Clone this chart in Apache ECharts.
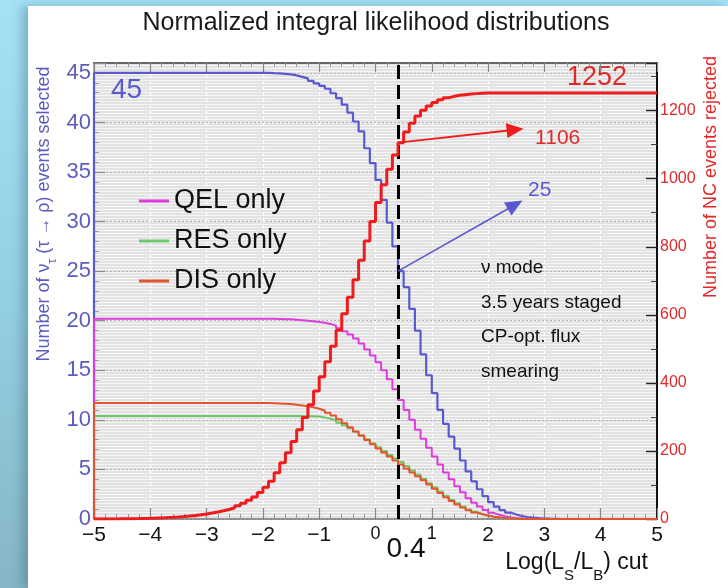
<!DOCTYPE html>
<html>
<head>
<meta charset="utf-8">
<title>Normalized integral likelihood distributions</title>
<script src="https://cdn.jsdelivr.net/npm/echarts@6/dist/echarts.min.js"></script>
<style>
  html, body { margin: 0; padding: 0; width: 728px; height: 588px; overflow: hidden; }
  body { background: linear-gradient(180deg, #a6e2f6 0%, #93cde0 55%, #86b6c6 100%); position: relative; }
  #panel { position: absolute; left: 28px; top: 6px; width: 700px; height: 582px; background: #ffffff;
           box-shadow: -6px 0 10px rgba(40, 90, 110, 0.35); }
  #chart { position: absolute; left: 0; top: 0; width: 728px; height: 588px; }
</style>
</head>
<body>
<div id="panel"></div>
<div id="chart"></div>
<script>
// Histogram binning of the likelihood-ratio cut: 100 bins of width 0.1 on [-5, 5]
const binLow = -5;
const binWidth = 0.1;

// Integral number of nu_tau (tau -> rho) events selected above each cut value (all channels)
const selectedAll = [
  45, 45, 45, 45, 45, 45, 45, 45, 45, 45,
  45, 45, 45, 45, 45, 45, 45, 45, 45, 45,
  45, 45, 45, 45, 45, 45, 45, 45, 45, 45,
  45, 44.97, 44.95, 44.9, 44.85, 44.75, 44.6, 44.45, 44.2, 43.95,
  43.7, 43.4, 42.95, 42.45, 41.8, 41.0, 40.1, 39.1, 37.4, 35.9,
  34.2, 32.2, 29.9, 27.5, 25, 23.4, 21.2, 19.0, 16.6, 14.5,
  12.7, 11.0, 9.6, 8.3, 7.1, 5.9, 4.8, 3.8, 3.0, 2.3,
  1.7, 1.25, 0.9, 0.65, 0.45, 0.3, 0.2, 0.13, 0.08, 0.05,
  0.03, 0.015, 0, 0, 0, 0, 0, 0, 0, 0,
  0, 0, 0, 0, 0, 0, 0, 0, 0, 0
];

// Quasi-elastic channel only
const selectedQEL = [
  20.2, 20.2, 20.2, 20.2, 20.2, 20.2, 20.2, 20.2, 20.2, 20.2,
  20.2, 20.2, 20.2, 20.2, 20.2, 20.2, 20.2, 20.2, 20.2, 20.2,
  20.2, 20.2, 20.2, 20.2, 20.2, 20.2, 20.2, 20.2, 20.2, 20.2,
  20.2, 20.19, 20.18, 20.16, 20.14, 20.1, 20.06, 20.0, 19.95, 19.88,
  19.8, 19.68, 19.5, 19.25, 18.95, 18.6, 18.2, 17.7, 17.1, 16.5,
  15.8, 15.0, 14.1, 13.1, 12.0, 11.0, 10.0, 9.0, 8.1, 7.2,
  6.3, 5.5, 4.7, 4.0, 3.3, 2.7, 2.1, 1.65, 1.25, 0.9,
  0.62, 0.42, 0.28, 0.18, 0.11, 0.06, 0.03, 0.015, 0, 0,
  0, 0, 0, 0, 0, 0, 0, 0, 0, 0,
  0, 0, 0, 0, 0, 0, 0, 0, 0, 0
];

// Resonant channel only
const selectedRES = [
  10.4, 10.4, 10.4, 10.4, 10.4, 10.4, 10.4, 10.4, 10.4, 10.4,
  10.4, 10.4, 10.4, 10.4, 10.4, 10.4, 10.4, 10.4, 10.4, 10.4,
  10.4, 10.4, 10.4, 10.4, 10.4, 10.4, 10.4, 10.4, 10.4, 10.4,
  10.4, 10.4, 10.4, 10.4, 10.4, 10.4, 10.4, 10.39, 10.37, 10.33,
  10.25, 10.12, 9.95, 9.72, 9.45, 9.15, 8.8, 8.45, 8.05, 7.65,
  7.25, 6.85, 6.45, 6.1, 5.75, 5.35, 4.9, 4.5, 4.05, 3.6,
  3.2, 2.75, 2.35, 1.95, 1.6, 1.25, 0.95, 0.72, 0.52, 0.36,
  0.25, 0.17, 0.11, 0.07, 0.04, 0.02, 0.01, 0, 0, 0,
  0, 0, 0, 0, 0, 0, 0, 0, 0, 0,
  0, 0, 0, 0, 0, 0, 0, 0, 0, 0
];

// Deep-inelastic channel only
const selectedDIS = [
  11.7, 11.7, 11.7, 11.7, 11.7, 11.7, 11.7, 11.7, 11.7, 11.7,
  11.7, 11.7, 11.7, 11.7, 11.7, 11.7, 11.7, 11.7, 11.7, 11.7,
  11.7, 11.7, 11.7, 11.7, 11.7, 11.7, 11.7, 11.7, 11.7, 11.7,
  11.7, 11.68, 11.66, 11.63, 11.59, 11.53, 11.46, 11.37, 11.26, 11.12,
  10.95, 10.72, 10.43, 10.07, 9.67, 9.25, 8.82, 8.4, 7.98, 7.55,
  7.12, 6.7, 6.3, 5.9, 5.5, 5.1, 4.7, 4.3, 3.9, 3.48,
  3.05, 2.62, 2.2, 1.82, 1.47, 1.16, 0.89, 0.66, 0.48, 0.34,
  0.23, 0.15, 0.09, 0.05, 0.03, 0.01, 0, 0, 0, 0,
  0, 0, 0, 0, 0, 0, 0, 0, 0, 0,
  0, 0, 0, 0, 0, 0, 0, 0, 0, 0
];

// Integral number of NC background events rejected below each cut value
const rejectedNC = [
  0, 0.1, 0.2, 0.3, 0.5, 0.7, 0.9, 1.2, 1.6, 2.0,
  2.6, 3.3, 4.1, 5.0, 6.0, 7.2, 8.6, 10.3, 12.3, 14.7,
  17.5, 20.5, 24, 28, 33, 39, 46, 55, 65, 78,
  93, 111, 136, 165, 195, 228, 262, 298, 336, 376,
  418, 462, 508, 555, 603, 652, 703, 760, 817, 874,
  930, 982, 1028, 1070, 1106, 1137, 1163, 1184, 1201, 1214,
  1224, 1232, 1238, 1242, 1245, 1247, 1249, 1250, 1251, 1252,
  1252, 1252, 1252, 1252, 1252, 1252, 1252, 1252, 1252, 1252,
  1252, 1252, 1252, 1252, 1252, 1252, 1252, 1252, 1252, 1252,
  1252, 1252, 1252, 1252, 1252, 1252, 1252, 1252, 1252, 1252
];

// Working point and the quoted numbers
const cutValue = 0.4;
const cutSelected = 25;
const cutRejected = 1106;
const totalSelected = 45;
const totalRejected = 1252;

// Axis ranges and tick steps
const xRange = [-5, 5];
const xStep = 1;
const leftRange = [0, 46];
const leftStep = 5;
const rightRange = [0, 1340];
const rightStep = 200;

// Legend entries and info box lines
const legendNames = ['QEL only', 'RES only', 'DIS only'];
const infoLines = ['ν mode', '3.5 years staged', 'CP-opt. flux', 'smearing'];

const FONT = '"Liberation Sans", Arial, Helvetica, sans-serif';
const C_ALL = '#5a5ad0';
const C_QEL = '#dc3cdc';
const C_RES = '#6cc86c';
const C_DIS = '#e2542e';
const C_NC = '#ee1c1c';
const C_LEFT_TXT = '#5c5cc0';
const C_RIGHT_TXT = '#e02a2a';

// Turn bin contents into a closed step outline starting from zero at the low edge
function steps(values) {
  const pts = [[binLow, 0]];
  values.forEach((v, i) => pts.push([+(binLow + i * binWidth).toFixed(2), v]));
  pts.push([+(binLow + values.length * binWidth).toFixed(2), values[values.length - 1]]);
  return pts;
}

// Fine horizontal hatching used as the frame fill
function hatchPattern() {
  const c = document.createElement('canvas');
  c.width = 4; c.height = 3;
  const g = c.getContext('2d');
  g.fillStyle = '#e2e2e2'; g.fillRect(0, 0, 4, 2);
  g.fillStyle = '#f5f5f5'; g.fillRect(0, 2, 4, 1);
  return c;
}

const chart = echarts.init(document.getElementById('chart'), null, { renderer: 'canvas' });
const GRID = { left: 94, right: 71, top: 63, bottom: 69 };

function stepSeries(name, values, color, width, yIdx, z) {
  return {
    name: name, type: 'line', step: 'end', xAxisIndex: 0, yAxisIndex: yIdx,
    data: steps(values), showSymbol: false, symbol: 'none', silent: true, z: z,
    lineStyle: { color: color, width: width }, itemStyle: { color: color }
  };
}

const sAll = stepSeries('All channels', selectedAll, C_ALL, 2.2, 0, 3);
sAll.markLine = {
  silent: true, symbol: ['none', 'none'], animation: false,
  label: { show: false },
  lineStyle: { color: '#000', width: 3, type: [14, 6] },
  data: [{ xAxis: cutValue }]
};
const sArrowBlue = {
  name: 'cut-selected', type: 'line', xAxisIndex: 0, yAxisIndex: 0, data: [], silent: true, z: 6,
  markLine: {
    silent: true, animation: false, symbol: ['none', 'triangle'], symbolSize: [15, 17],
    label: { show: false },
    lineStyle: { color: C_ALL, width: 1.6, type: 'solid' },
    data: [[{ coord: [cutValue, cutSelected] }, { coord: [2.48, 31.7] }]]
  }
};
const sNC = stepSeries('NC rejected', rejectedNC, C_NC, 3, 1, 5);
sNC.markLine = {
  silent: true, animation: false, symbol: ['none', 'triangle'], symbolSize: [15, 17],
  label: { show: false },
  lineStyle: { color: C_NC, width: 2, type: 'solid' },
  data: [[{ coord: [cutValue, cutRejected] }, { coord: [2.48, 1144] }]]
};

// Bottom tick labels: long minus sign; the two labels beside the cut marker are set smaller
const xLabelFmt = v => {
  const s = v < 0 ? '\u2212' + Math.abs(v) : String(v);
  return (v === 0 || v === 1) ? '{c|' + s + '}' : s;
};

chart.setOption({
  animation: false,
  backgroundColor: 'transparent',
  textStyle: { fontFamily: FONT },
  title: {
    text: 'Normalized integral likelihood distributions',
    left: 371, top: 6, textAlign: 'center',
    textStyle: { fontFamily: FONT, fontSize: 25, fontWeight: 'normal', color: '#1a1a1a' }
  },
  legend: {
    orient: 'vertical', left: 134, top: 181, selectedMode: false,
    icon: 'rect', itemWidth: 30, itemHeight: 3, itemGap: 10,
    textStyle: { fontFamily: FONT, fontSize: 27, color: '#111', lineHeight: 30 },
    data: legendNames
  },
  grid: Object.assign({ containLabel: false }, GRID),
  xAxis: [
    {
      type: 'value', min: xRange[0], max: xRange[1], interval: xStep, position: 'bottom',
      axisLine: { show: true, onZero: false, lineStyle: { color: '#777', width: 1.5 } },
      axisTick: { show: true, inside: true, length: 11, lineStyle: { color: '#888', width: 1.2 } },
      minorTick: { show: true, splitNumber: 5, length: 5, lineStyle: { color: '#999' } },
      axisLabel: { color: '#111', fontSize: 21, margin: 6, fontFamily: FONT, formatter: xLabelFmt,
        rich: { c: { fontSize: 18, color: '#111', fontFamily: FONT, padding: [0, 0, 4, 0] } } },
      splitLine: { show: true, lineStyle: { color: '#ffffff', width: 1.2, type: [3, 3] } }
    },
    {
      type: 'value', min: xRange[0], max: xRange[1], interval: xStep, position: 'top',
      axisLine: { show: true, onZero: false, lineStyle: { color: '#666', width: 2 } },
      axisTick: { show: true, inside: true, length: 9, lineStyle: { color: '#888', width: 1.2 } },
      minorTick: { show: true, splitNumber: 5, length: 4, lineStyle: { color: '#999' } },
      axisLabel: { show: false }, splitLine: { show: false }
    }
  ],
  yAxis: [
    {
      type: 'value', min: leftRange[0], max: leftRange[1], interval: leftStep, position: 'left',
      axisLine: { show: true, onZero: false, lineStyle: { color: '#8888cc', width: 1.5 } },
      axisTick: { show: true, inside: true, length: 11, lineStyle: { color: '#8a8a8a', width: 1.2 } },
      minorTick: { show: true, splitNumber: 5, length: 5, lineStyle: { color: '#a0a0a0' } },
      axisLabel: { color: C_LEFT_TXT, fontSize: 22, margin: 3, fontFamily: FONT, showMaxLabel: false },
      splitLine: { show: true, lineStyle: { color: '#b5b5b5', width: 1, type: [2, 2] } }
    },
    {
      type: 'value', min: rightRange[0], max: rightRange[1], interval: rightStep, position: 'right',
      axisLine: { show: true, onZero: false, lineStyle: { color: '#111', width: 2 } },
      axisTick: { show: true, inside: true, length: 11, lineStyle: { color: '#222', width: 1.4 } },
      minorTick: { show: true, splitNumber: 2, length: 6, lineStyle: { color: '#444' } },
      axisLabel: { color: C_RIGHT_TXT, fontSize: 16, margin: 3, fontFamily: FONT, showMaxLabel: false,
        formatter: v => String(v) },
      splitLine: { show: false }
    }
  ],
  series: [
    sAll,
    stepSeries('QEL only', selectedQEL, C_QEL, 2, 0, 3),
    stepSeries('RES only', selectedRES, C_RES, 2, 0, 3),
    stepSeries('DIS only', selectedDIS, C_DIS, 2, 0, 4),
    sNC,
    sArrowBlue
  ]
});

// Annotations positioned from data coordinates
const pL = (x, y) => chart.convertToPixel({ xAxisIndex: 0, yAxisIndex: 0 }, [x, y]);
const pR = (x, y) => chart.convertToPixel({ xAxisIndex: 0, yAxisIndex: 1 }, [x, y]);
const gx = GRID.left, gy = GRID.top;
const gw = 728 - GRID.left - GRID.right, gh = 588 - GRID.top - GRID.bottom;

const pTot = pL(binLow, totalSelected);
const pNCtot = pR(xRange[1], totalRejected);
const pCutAxis = pL(cutValue, 0);
const pBlueTip = pL(2.48, 31.7);
const pRedTip = pR(2.48, 1144);

const graphics = [
  { type: 'rect', silent: true, z: -10, shape: { x: gx, y: gy, width: gw, height: gh },
    style: { fill: { image: hatchPattern(), repeat: 'repeat' } } },
  { type: 'text', silent: true, x: pTot[0] + 17, y: pTot[1] + 17,
    style: { text: String(totalSelected), font: '28px ' + FONT, fill: C_ALL, align: 'left', verticalAlign: 'middle' } },
  { type: 'text', silent: true, x: pNCtot[0] - 30, y: pNCtot[1] - 15,
    style: { text: String(totalRejected), font: '27px ' + FONT, fill: C_RIGHT_TXT, align: 'right', verticalAlign: 'middle' } },
  { type: 'text', silent: true, x: pRedTip[0] + 20, y: pRedTip[1] + 9,
    style: { text: String(cutRejected), font: '21px ' + FONT, fill: C_RIGHT_TXT, align: 'left', verticalAlign: 'middle' } },
  { type: 'text', silent: true, x: pBlueTip[0] + 13, y: pBlueTip[1] - 15,
    style: { text: String(cutSelected), font: '21px ' + FONT, fill: C_ALL, align: 'left', verticalAlign: 'middle' } },
  { type: 'text', silent: true, x: pCutAxis[0] + 8, y: pCutAxis[1] + 30,
    style: { text: String(cutValue), font: '28px ' + FONT, fill: '#111', align: 'center', verticalAlign: 'middle' } },
  { type: 'text', silent: true, x: 648, y: 567,
    style: { text: '{n|Log(L}{s|S}{n|/L}{s|B}{n|) cut}', align: 'right', verticalAlign: 'middle',
      rich: { n: { font: '23px ' + FONT, fill: '#111', lineHeight: 32, verticalAlign: 'top' },
              s: { font: '15px ' + FONT, fill: '#111', lineHeight: 32, verticalAlign: 'bottom', padding: [15, 0, 0, 0] } } } },
  { type: 'text', silent: true, x: 47, y: 214, rotation: Math.PI / 2,
    style: { text: '{n|Number of ν}{s|τ}{n| (τ → ρ) events selected}', align: 'center', verticalAlign: 'middle',
      rich: { n: { font: '18px ' + FONT, fill: C_LEFT_TXT, lineHeight: 24, verticalAlign: 'top' },
              s: { font: '12px ' + FONT, fill: C_LEFT_TXT, lineHeight: 24, verticalAlign: 'bottom', padding: [10, 0, 0, 0] } } } },
  { type: 'text', silent: true, x: 711, y: 177, rotation: Math.PI / 2,
    style: { text: 'Number of NC events rejected', font: '18px ' + FONT, fill: C_RIGHT_TXT, align: 'center', verticalAlign: 'middle' } }
];
infoLines.forEach((t, i) => {
  graphics.push({ type: 'text', silent: true, x: 481, y: 268 + i * 34.5,
    style: { text: t, font: '19px ' + FONT, fill: '#111', align: 'left', verticalAlign: 'middle' } });
});
chart.setOption({ graphic: graphics });
</script>
</body>
</html>
